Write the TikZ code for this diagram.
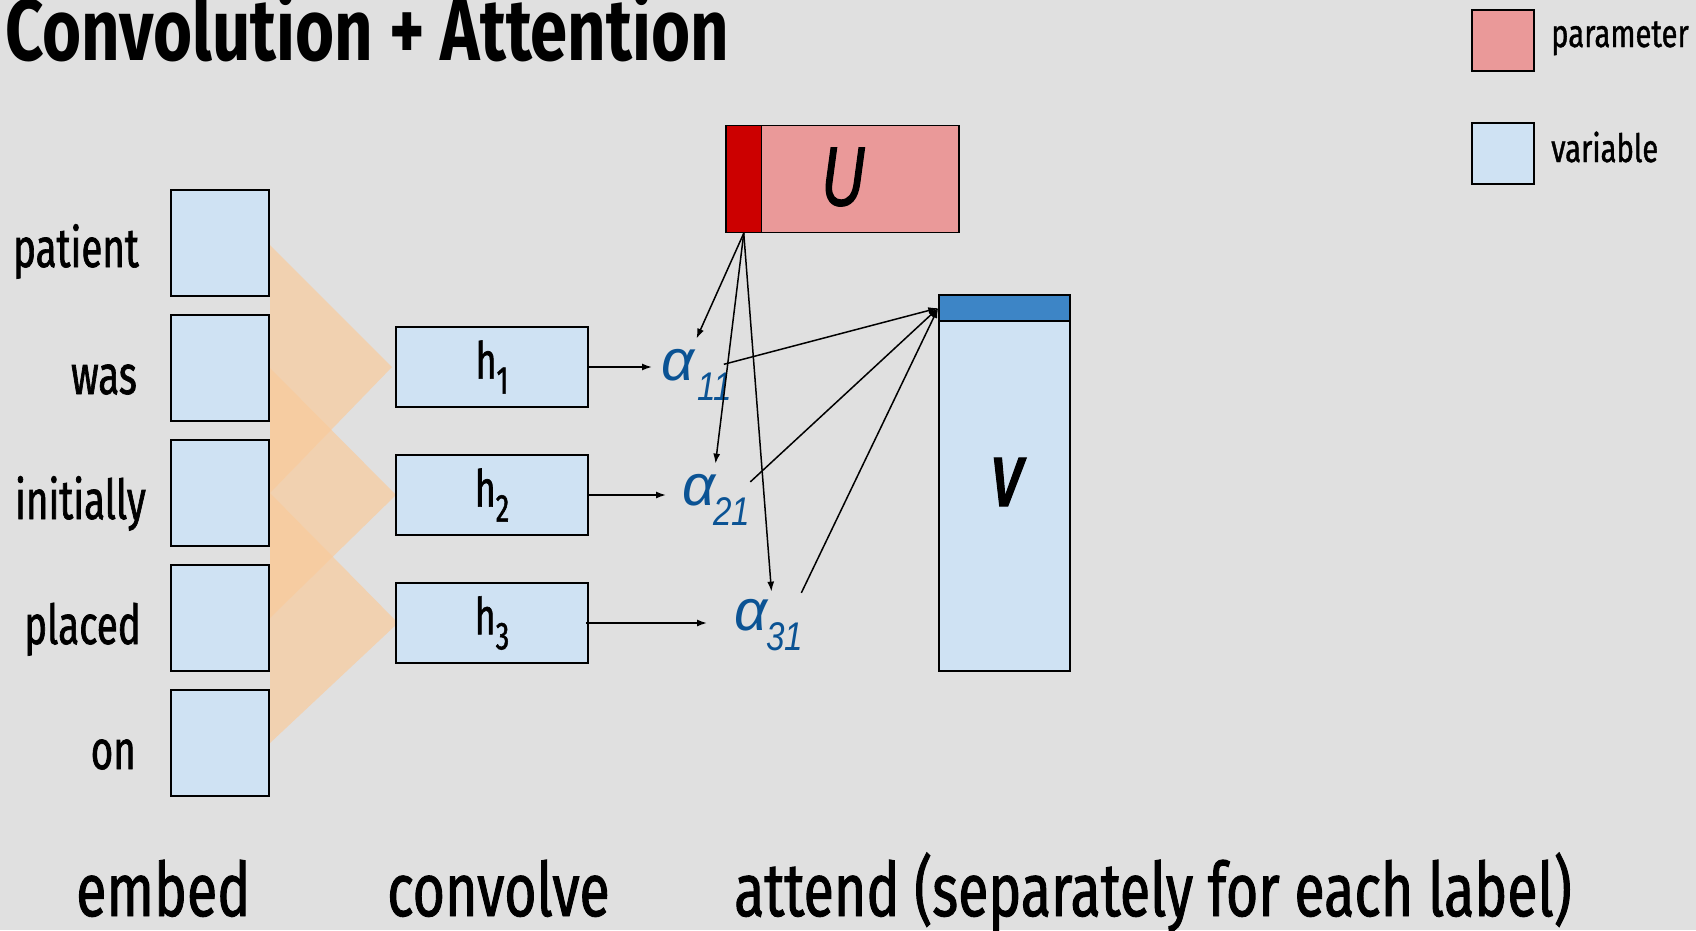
\documentclass[tikz,border=0pt]{standalone}
\usepackage{fontspec}
\setmainfont{Fira Sans}
\newfontfamily\titlefont[FakeStretch=0.77]{Fira Sans}
\newfontfamily\lblfont[FakeStretch=0.7,FakeBold=1.2]{Fira Sans}
\newfontfamily\capfont[FakeStretch=0.74,FakeBold=1.2]{Fira Sans}
\newfontfamily\legfont[FakeStretch=0.75,FakeBold=1]{Fira Sans}
\newfontfamily\hfont[FakeStretch=0.7,FakeBold=1.2]{Fira Sans}
\newfontfamily\grkfont{Liberation Sans}
\newfontfamily\digfont[FakeStretch=0.83]{Liberation Sans}
\newfontfamily\letfont[FakeStretch=0.7,FakeBold=1.5]{Liberation Sans}
\usetikzlibrary{arrows.meta,calc}
\definecolor{bg}{HTML}{E0E0E0}
\definecolor{lblue}{HTML}{CFE2F3}
\definecolor{lred}{HTML}{EA9999}
\definecolor{dred}{HTML}{CC0000}
\definecolor{mblue}{HTML}{3D85C6}
\definecolor{ablue}{HTML}{0B5394}
\definecolor{conv}{HTML}{F9CB9C}
\begin{document}
\begin{tikzpicture}[x=1pt,y=-1pt,
  wbox/.style={draw=black,line width=2pt,fill=lblue,minimum width=98pt,minimum height=106pt,inner sep=0pt},
  hbox/.style={draw=black,line width=1.5pt,fill=lblue,minimum width=192pt,minimum height=80pt,inner sep=0pt},
  legbox/.style={draw=black,line width=2pt,minimum width=62pt,minimum height=61pt,inner sep=0pt},
  wlab/.style={anchor=base east,inner sep=0pt,font=\lblfont\fontsize{55}{60}\selectfont},
  hlab/.style={inner sep=0pt,font=\hfont\fontsize{51}{56}\selectfont},
  caplab/.style={anchor=base west,inner sep=0pt,font=\capfont\fontsize{75}{78}\selectfont},
  leglab/.style={anchor=base west,inner sep=0pt,font=\legfont\fontsize{39}{42}\selectfont},
  alph/.style={anchor=base west,inner sep=0pt,text=ablue,font=\grkfont\itshape\fontsize{58}{60}\selectfont},
  asub/.style={anchor=base west,inner sep=0pt,text=ablue,font=\digfont\itshape\fontsize{40}{44}\selectfont},
  convtri/.style={fill=conv,fill opacity=0.7,draw=none},
  arr/.style={draw=black,line width=1.5pt,-{Latex[length=10pt,width=7pt]}}
]
\useasboundingbox (0,0) rectangle (1696,930);
\fill[bg] (0,0) rectangle (1696,930);

% title
\node[anchor=base west,inner sep=0pt,font=\titlefont\bfseries\fontsize{87}{90}\selectfont] (title) at (5,60) {Convolution + Attention};

% legend
\node[legbox,fill=lred] (legp) at (1503,40.5) {};
\node[legbox,fill=lblue] (legv) at (1503,153) {};
\node[leglab] (legptxt) at (1551,47) {parameter};
\node[leglab] (legvtxt) at (1551,162) {variable};

% convolution triangles
\fill[convtri] (270,245) -- (392,367) -- (270,493) -- cycle;
\fill[convtri] (270,368) -- (396,495) -- (270,618) -- cycle;
\fill[convtri] (270,493) -- (398,623) -- (270,743) -- cycle;

% word boxes
\node[wbox] (w1) at (220,243) {};
\node[wbox] (w2) at (220,368) {};
\node[wbox] (w3) at (220,493) {};
\node[wbox] (w4) at (220,618) {};
\node[wbox] (w5) at (220,743) {};
\node[wlab] (t1) at (139,267) {patient};
\node[wlab] (t2) at (137,394) {was};
\node[wlab] (t3) at (146,519) {initially};
\node[wlab] (t4) at (141,644) {placed};
\node[wlab] (t5) at (136,769) {on};

% hidden boxes
\node[hbox] (h1) at (492,367) {};
\node[hbox] (h2) at (492,495) {};
\node[hbox] (h3) at (492,623) {};
\node[hlab] at (h1) {h\raisebox{-15pt}{\fontsize{39}{42}\selectfont 1}};
\node[hlab] at (h2) {h\raisebox{-15pt}{\fontsize{39}{42}\selectfont 2}};
\node[hlab] at (h3) {h\raisebox{-15pt}{\fontsize{39}{42}\selectfont 3}};

% U box
\node[draw=black,line width=1.5pt,fill=lred,minimum width=233pt,minimum height=107pt,inner sep=0pt] (U) at (842.5,179) {};
\node[draw=black,line width=1.5pt,fill=dred,minimum width=35.5pt,minimum height=107pt,inner sep=0pt] (ustrip) at (743.75,179) {};
\node[inner sep=0pt,font=\letfont\itshape\fontsize{84}{88}\selectfont] (ulab) at (843,177) {U};

% V box
\node[draw=black,line width=1.5pt,fill=lblue,minimum width=131pt,minimum height=376pt,inner sep=0pt] (V) at (1004.5,483) {};
\node[draw=black,line width=1.5pt,fill=mblue,minimum width=131pt,minimum height=26pt,inner sep=0pt] (vstrip) at (1004.5,308) {};
\node[inner sep=0pt,font=\letfont\bfseries\itshape\fontsize{70}{74}\selectfont] (vlab) at (1006.5,482) {V};

% alphas
\node[alph] (a11) at (661,380) {α};
\node[asub] (s11) at (697,400) {11};
\node[alph] (a21) at (682,505) {α};
\node[asub] (s21) at (713,525) {21};
\node[alph] (a31) at (734,630) {α};
\node[asub] (s31) at (766,650) {31};

% arrows h -> alpha
\draw[arr,shorten >=9pt] (h1.east) -- (h1.east -| a11.west);
\draw[arr,shorten >=16pt] (h2.east) -- (h2.east -| a21.west);
\draw[arr,shorten >=24pt] ([xshift=-3pt]h3.east) -- ([xshift=-3pt]h3.east -| a31.west);

% arrows U -> alpha
\draw[arr] (ustrip.south) -- ($(a11.north east)+(2,-10)$);
\draw[arr] (ustrip.south) -- ($(a21.north east)+(0,-10)$);
\draw[arr] (ustrip.south) -- ($(a31.north east)+(4,-7)$);

% arrows alpha -> V
\draw[arr] ($(s11.north east)+(-8,-8)$) -- (vstrip.west);
\draw[arr] ($(s21.north east)+(0,-15)$) -- (vstrip.west);
\draw[arr] ($(s31.north east)+(-2,-29)$) -- (vstrip.west);

% captions
\node[caplab] (c1) at (76,916) {embed};
\node[caplab] (c2) at (387,916) {convolve};
\node[caplab] (c3) at (734,916) {attend (separately for each label)};
\end{tikzpicture}
\end{document}
